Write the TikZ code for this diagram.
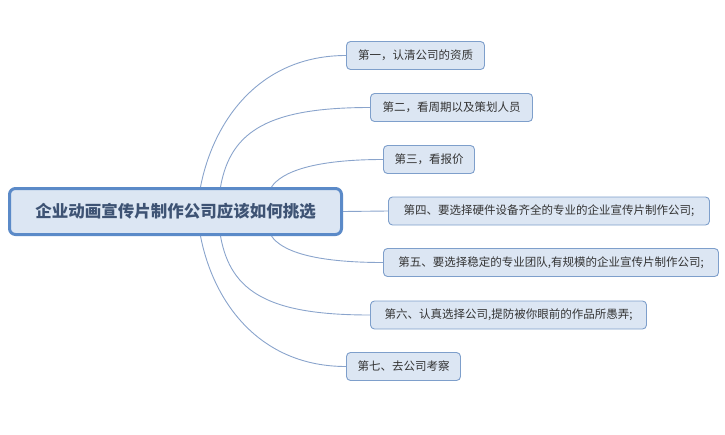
\documentclass[tikz,border=0pt]{standalone}
\usepackage{fontspec}
\newfontfamily\cjk{Noto Sans CJK SC}
\definecolor{rootfill}{HTML}{DCE6F3}
\definecolor{rootdraw}{HTML}{5B8AC8}
\definecolor{roottext}{HTML}{3E5374}
\definecolor{kidfill}{HTML}{DCE6F3}
\definecolor{kiddraw}{HTML}{7E9FCB}
\definecolor{kidtext}{HTML}{333333}
\definecolor{linkc}{HTML}{8AA4CC}
\tikzset{
  root/.style={draw=rootdraw, fill=rootfill, line width=3pt, rounded corners=6pt,
    text=roottext, font=\cjk\fontsize{16.5}{20}\selectfont\bfseries, inner sep=0pt},
  kid/.style={draw=kiddraw, fill=kidfill, line width=0.9pt, rounded corners=4pt,
    text=kidtext, font=\cjk\fontsize{11.5}{14}\selectfont, inner sep=0pt, minimum height=28pt},
  link/.style={draw=linkc, line width=0.9pt}
}
\begin{document}
\begin{tikzpicture}[x=1pt,y=-1pt]
\useasboundingbox (0,0) rectangle (725,434);
\node[root, minimum width=332pt, minimum height=46pt] (root) at (175.5,211.5) {企业动画宣传片制作公司应该如何挑选};

\node[kid, minimum width=138pt] (c1) at (415.5,55.5) {第一，认清公司的资质};
\node[kid, minimum width=162pt] (c2) at (451.5,107.5) {第二，看周期以及策划人员};
\node[kid, minimum width=91pt] (c3) at (429,159.5) {第三，看报价};
\node[kid, minimum width=321pt] (c4) at (549,211) {第四、要选择硬件设备齐全的专业的企业宣传片制作公司;};
\node[kid, minimum width=335pt] (c5) at (551,262.5) {第五、要选择稳定的专业团队,有规模的企业宣传片制作公司;};
\node[kid, minimum width=276pt] (c6) at (508.5,315) {第六、认真选择公司,提防被你眼前的作品所愚弄;};
\node[kid, minimum width=114pt] (c7) at (403.5,366.5) {第七、去公司考察};

\coordinate (s1) at ([xshift=192.5pt]root.north west);
\coordinate (s2) at ([xshift=212.5pt]root.north west);
\coordinate (s3) at ([xshift=263.5pt]root.north west);
\coordinate (s5) at ([xshift=263.5pt]root.south west);
\coordinate (s6) at ([xshift=212.5pt]root.south west);
\coordinate (s7) at ([xshift=192.5pt]root.south west);

\draw[link] (s1) .. controls +(13,-67) and +(-86,0) .. (c1.west);
\draw[link] (s2) .. controls +(10,-57) and +(-100,0) .. (c2.west);
\draw[link] (s3) .. controls +(10,-15) and +(-70,0) .. (c3.west);
\draw[link] (root.east) -- (c4.west);
\draw[link] (s5) .. controls +(10,15) and +(-70,0) .. (c5.west);
\draw[link] (s6) .. controls +(10,57) and +(-100,0) .. (c6.west);
\draw[link] (s7) .. controls +(13,67) and +(-86,0) .. (c7.west);
\end{tikzpicture}
\end{document}
